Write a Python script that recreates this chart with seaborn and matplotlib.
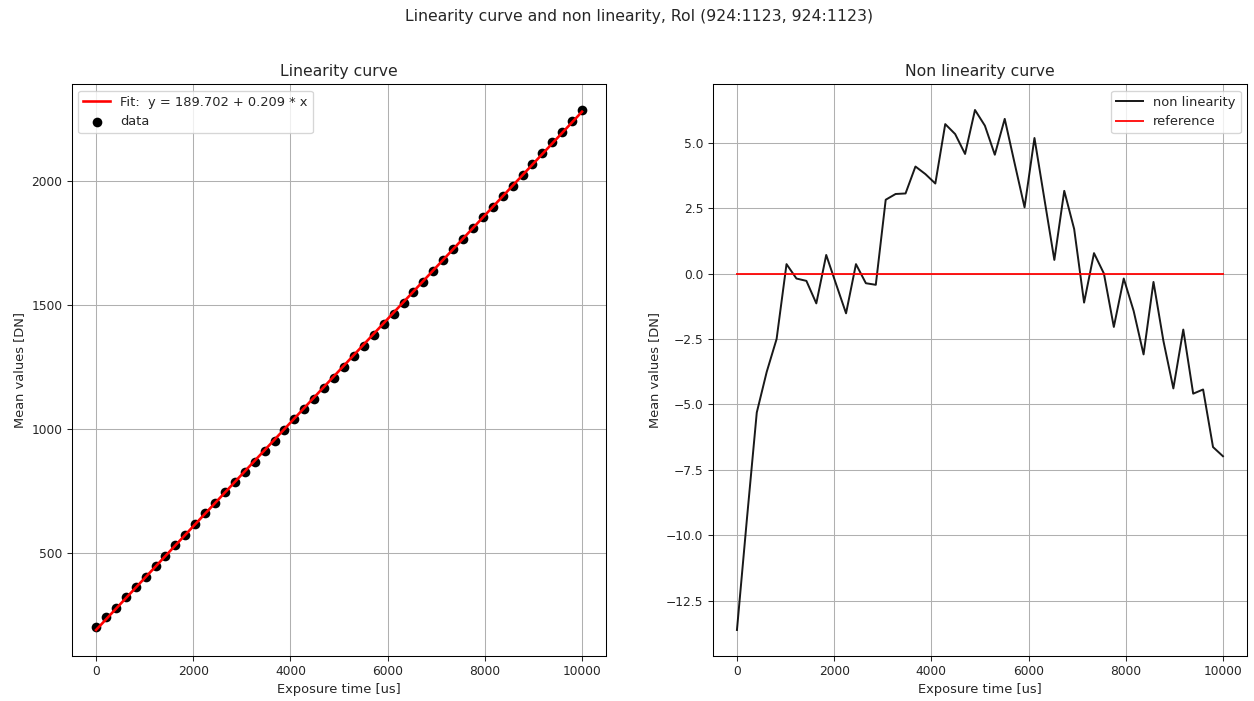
import numpy as np
import matplotlib
matplotlib.use("Agg")
import matplotlib.pyplot as plt
import seaborn as sns

# ---------------- data ----------------
exposure_us = [0, 204, 408, 612, 816, 1020, 1224, 1429, 1633, 1837,
               2041, 2245, 2449, 2653, 2857, 3061, 3265, 3469, 3673, 3878,
               4082, 4286, 4490, 4694, 4898, 5102, 5306, 5510, 5714, 5918,
               6122, 6327, 6531, 6735, 6939, 7143, 7347, 7551, 7755, 7959,
               8163, 8367, 8571, 8776, 8980, 9184, 9388, 9592, 9796, 10000]

mean_values = [203.32, 241.76, 280.32, 321.42, 362.81, 402.61, 445.81, 488.55, 532.07, 572.87,
               616.64, 660.41, 701.18, 744.56, 787.28, 826.68, 869.11, 911.75, 953.37, 996.31,
               1039.32, 1079.71, 1122.74, 1166.15, 1207.13, 1250.38, 1294.14, 1335.43, 1379.78, 1424.11,
               1464.12, 1509.11, 1554.08, 1594.09, 1638.21, 1683.67, 1724.43, 1767.87, 1812.56, 1853.36,
               1897.26, 1941.57, 1981.45, 2026.37, 2070.83, 2111.23, 2156.34, 2198.83, 2243.68, 2286.68]

non_linearity = [-13.62, -9.40, -5.31, -3.76, -2.50, 0.36, -0.19, -0.28, -1.14, 0.71,
                 -0.41, -1.52, 0.36, -0.37, -0.43, 2.82, 3.04, 3.06, 4.09, 3.80,
                 3.44, 5.71, 5.33, 4.57, 6.25, 5.65, 4.54, 5.91, 4.21, 2.53,
                 5.18, 2.84, 0.52, 3.16, 1.70, -1.11, 0.78, 0.00, -2.04, -0.19,
                 -1.43, -3.09, -0.32, -2.58, -4.39, -2.14, -4.59, -4.43, -6.63, -6.98]

fit_intercept = 189.702
fit_slope = 0.209
reference_level = 0.0

fit_label = "Fit:  y = 189.702 + 0.209 * x"
suptitle = "Linearity curve and non linearity, RoI (924:1123, 924:1123)"

# ---------------- plot ----------------
plt.rcParams['font.family'] = ['DejaVu Sans']
plt.rcParams['text.color'] = '#262626'
plt.rcParams['axes.labelcolor'] = '#262626'
plt.rcParams['xtick.color'] = '#262626'
plt.rcParams['ytick.color'] = '#262626'
plt.rcParams['xtick.labelsize'] = 9.4
plt.rcParams['ytick.labelsize'] = 9.4

DPI = 94
fig = plt.figure(figsize=(1254 / DPI, 701 / DPI), dpi=DPI)

ax1 = fig.add_axes([0.0572, 0.0642, 0.4263, 0.816])
ax2 = fig.add_axes([0.5683, 0.0642, 0.4263, 0.816])

x = np.asarray(exposure_us, dtype=float)
fit_line = fit_intercept + fit_slope * x
reference = np.full_like(x, reference_level)

# Linearity curve
sns.scatterplot(x=x, y=mean_values, ax=ax1, color="black", s=55,
                linewidth=0, label="data", zorder=2)
sns.lineplot(x=x, y=fit_line, ax=ax1, color="red", linewidth=2,
             label=fit_label, zorder=3, estimator=None)
ax1.set_title("Linearity curve")
ax1.set_xlabel("Exposure time [us]")
ax1.set_ylabel("Mean values [DN]")
ax1.set_yticks([500, 1000, 1500, 2000])
ax1.grid(True)
h, l = ax1.get_legend_handles_labels()
order = [l.index(fit_label), l.index("data")]
ax1.legend([h[i] for i in order], [l[i] for i in order], loc="upper left")

# Non linearity curve
sns.lineplot(x=x, y=non_linearity, ax=ax2, color="black", linewidth=1.5,
             label="non linearity", estimator=None, alpha=0.9)
sns.lineplot(x=x, y=reference, ax=ax2, color="red", linewidth=1.5,
             label="reference", estimator=None, alpha=0.9)
ax2.set_title("Non linearity curve")
ax2.set_xlabel("Exposure time [us]")
ax2.set_ylabel("Mean values [DN]")
ax2.grid(True)
ax2.legend(loc="upper right")

for ax in (ax1, ax2):
    ax.set_xticks([0, 2000, 4000, 6000, 8000, 10000])
    ax.set_axisbelow(True)

fig.suptitle(suptitle, x=0.5096, y=0.977, va="center", fontsize=12)

fig.savefig("out.png", dpi=DPI)
